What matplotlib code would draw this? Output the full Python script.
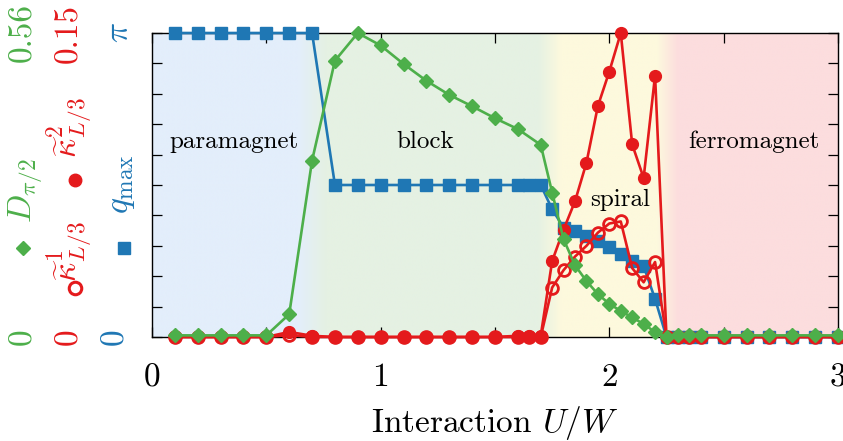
import numpy as np
import matplotlib
matplotlib.use("Agg")
import matplotlib.pyplot as plt
from matplotlib.lines import Line2D

plt.rcParams['font.family'] = 'serif'
plt.rcParams['font.serif'] = ['cmr10', 'DejaVu Serif']
plt.rcParams['mathtext.fontset'] = 'cm'
plt.rcParams['axes.unicode_minus'] = False

# ---------------- data ----------------
# D_{pi/2} (green diamonds), axis 0 .. 0.56
d_x = [0.1, 0.2, 0.3, 0.4, 0.5, 0.6, 0.7, 0.8, 0.9, 1.0, 1.1, 1.2, 1.3, 1.4, 1.5, 1.6, 1.7,
       1.75, 1.8, 1.85, 1.9, 1.95, 2.0, 2.05, 2.1, 2.15, 2.2, 2.25,
       2.3, 2.35, 2.4, 2.5, 2.6, 2.7, 2.8, 2.9, 3.0]
d_y = [0.003, 0.003, 0.003, 0.003, 0.003, 0.042, 0.325, 0.509, 0.56, 0.537, 0.503, 0.472, 0.446,
       0.425, 0.403, 0.383, 0.354,
       0.266, 0.18, 0.132, 0.103, 0.079, 0.061, 0.048, 0.036, 0.024, 0.009, 0.0,
       0.003, 0.003, 0.003, 0.003, 0.003, 0.003, 0.003, 0.003, 0.003]

# common x grid for q_max and kappa
k_x = [0.1, 0.2, 0.3, 0.4, 0.5, 0.6, 0.7, 0.8, 0.9, 1.0, 1.1, 1.2, 1.3, 1.4, 1.5, 1.6, 1.65, 1.7,
       1.75, 1.8, 1.85, 1.9, 1.95, 2.0, 2.05, 2.1, 2.15, 2.2, 2.25,
       2.3, 2.35, 2.4, 2.5, 2.6, 2.7, 2.8, 2.9, 3.0]
# q_max in units of pi, axis 0 .. pi
q_over_pi = [1, 1, 1, 1, 1, 1, 1, 0.5, 0.5, 0.5, 0.5, 0.5, 0.5, 0.5, 0.5, 0.5, 0.5, 0.5,
             0.42, 0.36, 0.348, 0.331, 0.316, 0.295, 0.272, 0.249, 0.233, 0.125, 0.0,
             0, 0, 0, 0, 0, 0, 0, 0, 0]
# kappa^2_{L/3} (filled red), axis 0 .. 0.15
k2_y = [0.0, 0.0, 0.0, 0.0, 0.0, 0.0025, 0.0006, 0.0, 0.0, 0.0, 0.0,
        0.0, 0.0, 0.0, 0.0, 0.0006, 0.0006, 0.0006,
        0.0375, 0.053, 0.067, 0.086, 0.114, 0.131, 0.15, 0.095, 0.0785, 0.129, 0.0,
        0, 0, 0, 0, 0, 0, 0, 0, 0]
# kappa^1_{L/3} (open red), axis 0 .. 0.15
k1_y = [0, 0, 0, 0, 0, 0.001, 0, 0, 0, 0, 0, 0, 0, 0, 0, 0, 0, 0,
        0.0244, 0.033, 0.0397, 0.045, 0.0515, 0.056, 0.057, 0.034, 0.027, 0.037, 0.0,
        0, 0, 0, 0, 0, 0, 0, 0, 0]

d_max = 0.56
k_max = 0.15

phase_names = ['paramagnet', 'block', 'spiral', 'ferromagnet']

# ---------------- style ----------------
GREEN = '#4daf4a'
RED = '#e41a1c'
BLUE = '#1f77b4'

W, H = 843, 441
fig = plt.figure(figsize=(W / 100, H / 100), dpi=100)
L, R, T, B = 152, 838, 33, 337
ax = fig.add_axes([L / W, 1 - B / H, (R - L) / W, (B - T) / H])
ax.set_xlim(0, 3)
ax.set_ylim(0, 1)

# background gradient
bg_stops = [(0.0, (227, 238, 251)), (0.64, (227, 238, 251)), (0.76, (229, 241, 227)),
            (1.69, (229, 241, 227)), (1.79, (253, 249, 221)), (2.21, (253, 249, 221)),
            (2.30, (252, 221, 222)), (3.0, (252, 221, 222))]
xs = np.linspace(0, 3, 1500)
sx = [s[0] for s in bg_stops]
img = np.zeros((1, len(xs), 3))
for c in range(3):
    img[0, :, c] = np.interp(xs, sx, [s[1][c] / 255 for s in bg_stops])
ax.imshow(img, extent=(0, 3, 0, 1), aspect='auto', zorder=0, interpolation='bilinear')

# series
ax.plot(k_x, np.array(q_over_pi), '-s', color=BLUE, ms=8, lw=1.9, clip_on=False, zorder=3)
ax.plot(k_x, np.array(k1_y) / k_max, '-o', color=RED, mfc='none', mec=RED, mew=2, ms=8.5,
        lw=1.9, clip_on=False, zorder=4)
ax.plot(k_x, np.array(k2_y) / k_max, '-o', color=RED, ms=8.5, lw=1.9, clip_on=False, zorder=5)
ax.plot(d_x, np.array(d_y) / d_max, '-D', color=GREEN, ms=7, lw=1.9, clip_on=False, zorder=6)

# ticks
ax.set_xticks([0, 1, 2, 3])
ax.set_xticklabels(['0', '1', '2', '3'])
ax.set_xticks([0.5, 1.5, 2.5], minor=True)
ax.set_yticks(np.linspace(0, 1, 11))
ax.set_yticklabels([])
ax.tick_params(axis='both', which='both', direction='in', top=True, right=True, length=7,
               width=0.9, labelsize=24)
ax.tick_params(axis='x', which='major', pad=19)
for s in ax.spines.values():
    s.set_linewidth(1.0)
    s.set_zorder(2.5)

ax.set_xlabel('Interaction $U/W$', fontsize=24, labelpad=8)

# phase labels
fs_ph = 18
ax.text(0.36, 0.643, phase_names[0], ha='center', va='center', fontsize=fs_ph, zorder=8)
ax.text(1.194, 0.643, phase_names[1], ha='center', va='center', fontsize=fs_ph, zorder=8)
ax.text(2.047, 0.452, phase_names[2], ha='center', va='center', fontsize=fs_ph, zorder=8)
ax.text(2.632, 0.643, phase_names[3], ha='center', va='center', fontsize=fs_ph, zorder=8)

# left-side rotated labels
def fx(px):
    return px / W

def fy(py):
    return 1 - py / H

fs = 24
# green
fig.text(fx(23), fy(T), '0.56', color=GREEN, rotation=90, ha='center', va='center', fontsize=fs)
fig.text(fx(23), fy(B), '0', color=GREEN, rotation=90, ha='center', va='center', fontsize=fs)
fig.text(fx(26), fy(190), r'$D_{\pi/2}$', color=GREEN, rotation=90, ha='center', va='center', fontsize=fs)
fig.add_artist(Line2D([fx(23)], [fy(248)], marker='D', color=GREEN, ms=7.5, transform=fig.transFigure))
# red
fig.text(fx(69), fy(T), '0.15', color=RED, rotation=90, ha='center', va='center', fontsize=fs)
fig.text(fx(69), fy(B), '0', color=RED, rotation=90, ha='center', va='center', fontsize=fs)
fig.text(fx(70), fy(128), r'$\widetilde{\kappa}^2_{L/3}$', color=RED, rotation=90, ha='center', va='center', fontsize=fs)
fig.text(fx(70), fy(252), r'$\widetilde{\kappa}^1_{L/3}$', color=RED, rotation=90, ha='center', va='center', fontsize=fs)
fig.add_artist(Line2D([fx(75)], [fy(180)], marker='o', color=RED, ms=9, transform=fig.transFigure))
fig.add_artist(Line2D([fx(75)], [fy(288)], marker='o', color=RED, mfc='none', mew=2.2, ms=9,
                      transform=fig.transFigure))
# blue
fig.text(fx(119), fy(T), r'$\pi$', color=BLUE, rotation=90, ha='center', va='center', fontsize=fs)
fig.text(fx(115), fy(B), '0', color=BLUE, rotation=90, ha='center', va='center', fontsize=fs)
fig.text(fx(122), fy(184), r'$q_\mathrm{max}$', color=BLUE, rotation=90, ha='center', va='center', fontsize=fs)
fig.add_artist(Line2D([fx(124)], [fy(248)], marker='s', color=BLUE, ms=8.5, transform=fig.transFigure))

fig.savefig('out.png', dpi=100)
